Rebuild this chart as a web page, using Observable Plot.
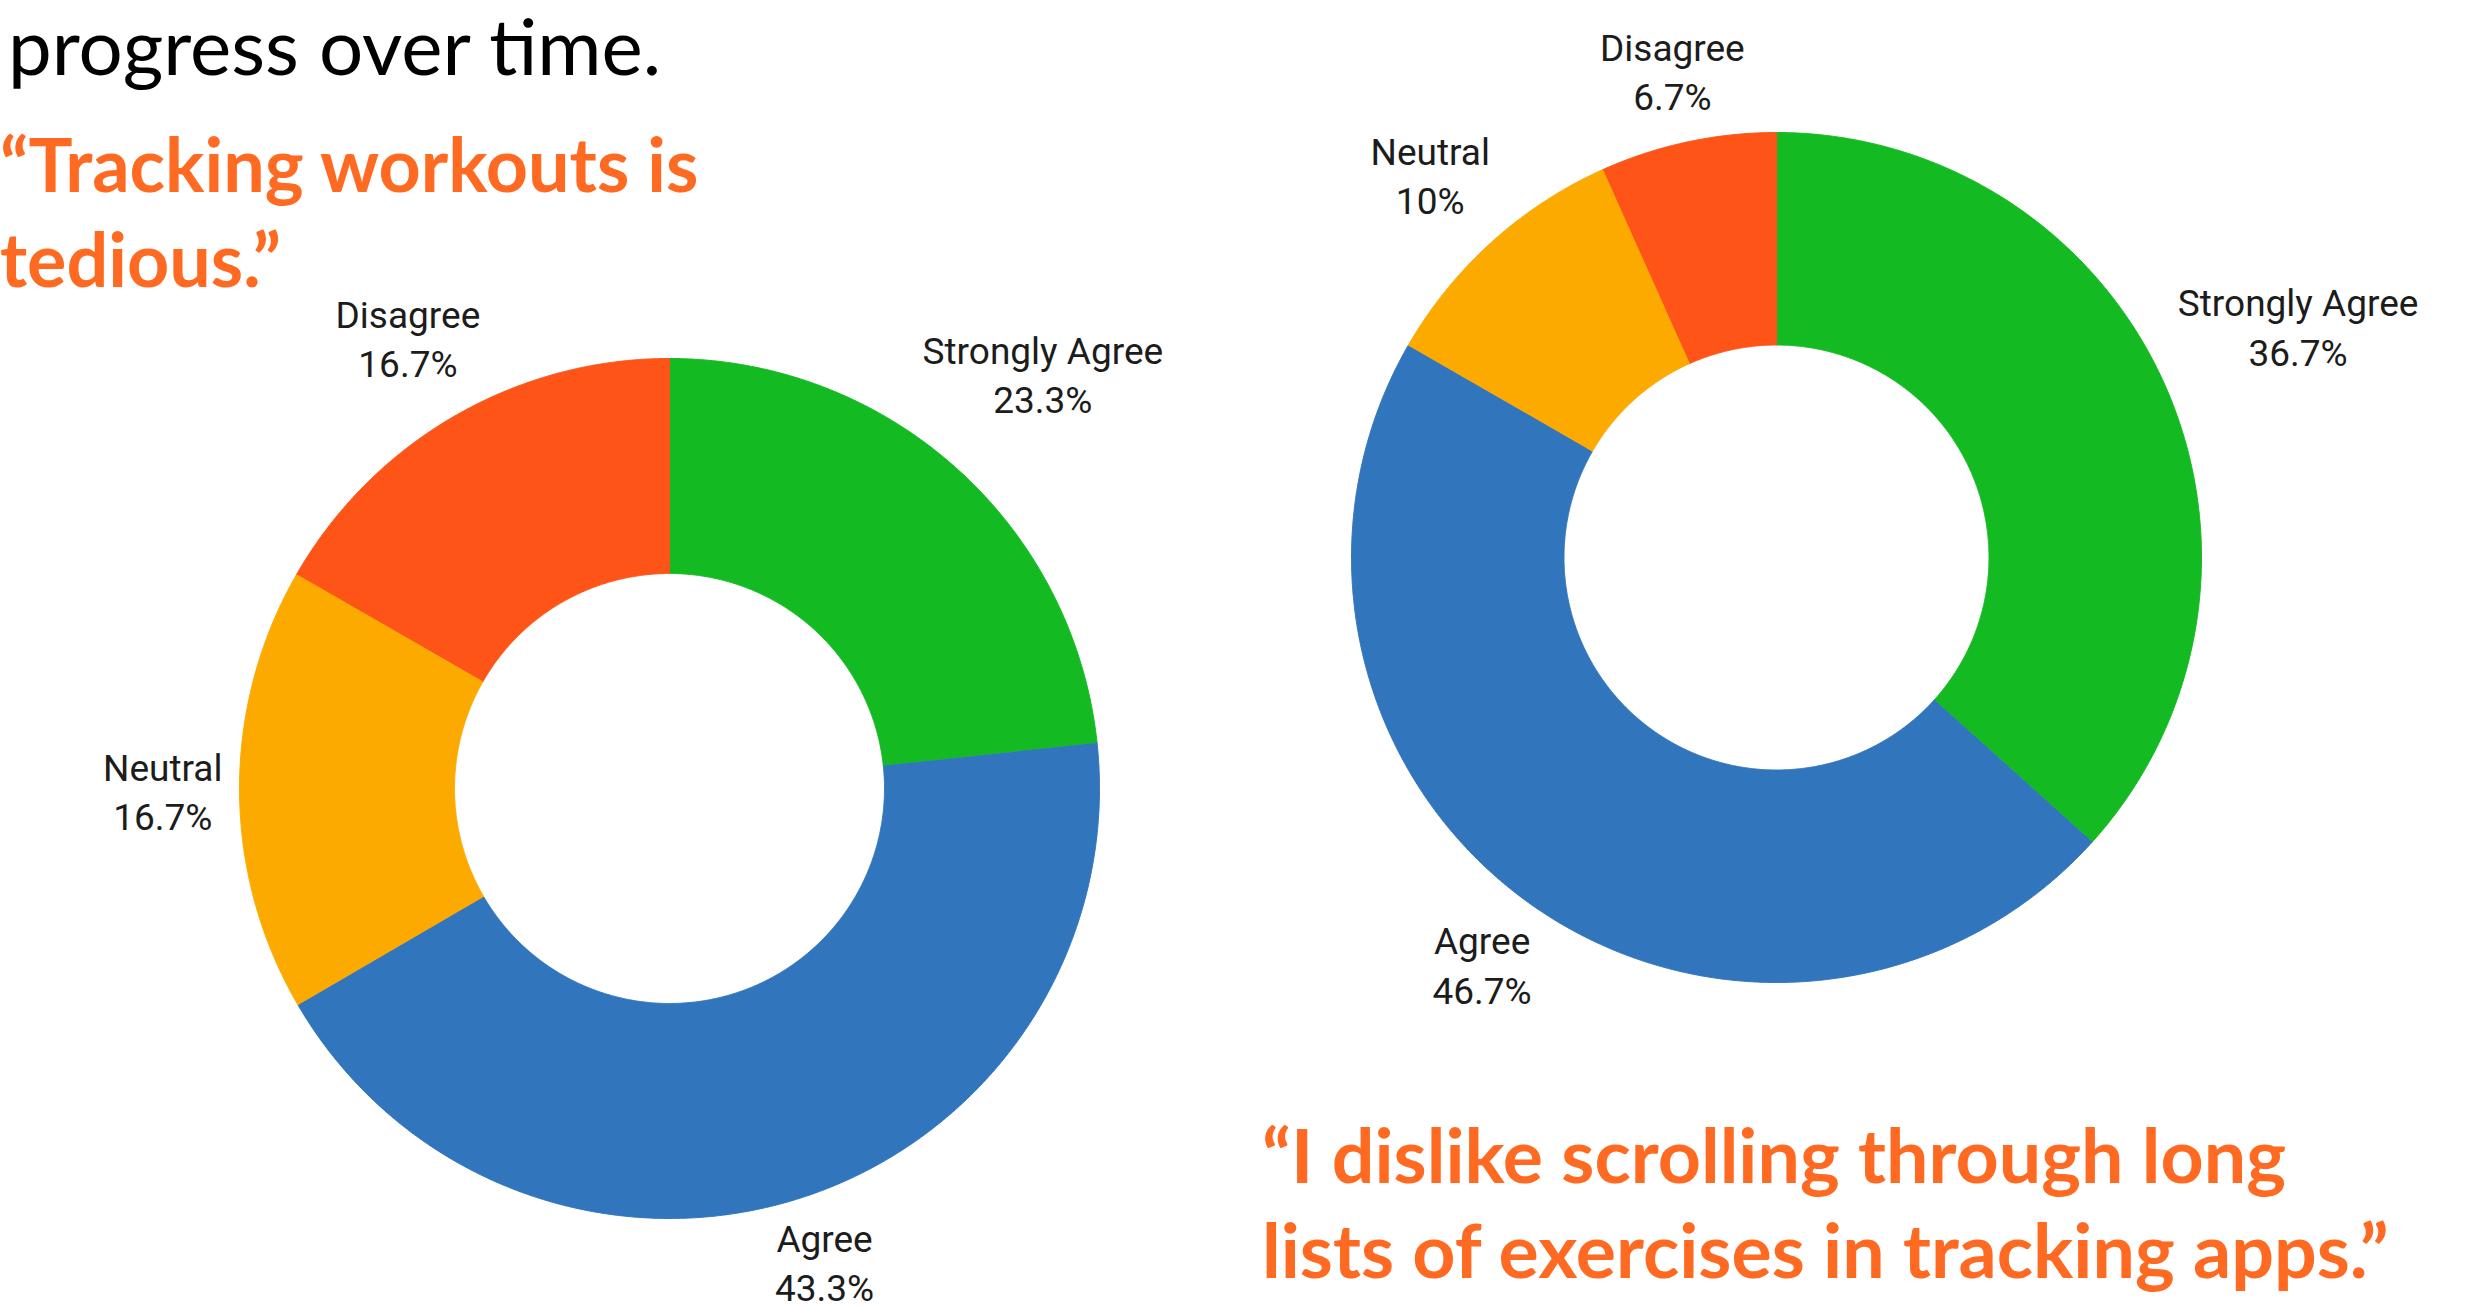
<!DOCTYPE html>
<html>
<head>
<meta charset="utf-8">
<script src="https://cdn.jsdelivr.net/npm/d3@7"></script>
<script src="https://cdn.jsdelivr.net/npm/@observablehq/plot@0.6"></script>
<style>
  html, body { margin: 0; padding: 0; background: #fff; overflow: hidden; }
  #page { position: relative; width: 2480px; height: 1309px; overflow: hidden; background: #fff; }
  .chart { position: absolute; }
  .t { position: absolute; white-space: nowrap; font-family: Lato, "Open Sans", sans-serif; }
</style>
</head>
<body>
<div id="page">
  <div id="left-chart" class="chart"></div>
  <div id="right-chart" class="chart"></div>
</div>
<script>
// ---------- data ----------
const categories = ["Strongly Agree", "Agree", "Neutral", "Disagree"];
const tediousValues = [23.3, 43.3, 16.7, 16.7];     // "Tracking workouts is tedious."
const scrollingValues = [36.7, 46.7, 10, 6.7];      // "I dislike scrolling through long lists..."
const sliceColors = ["#14BA22", "#3175BD", "#FCAA00", "#FE5418"];

const headingText = "progress over time.";
const quoteLeft = ["\u201CTracking workouts is", "tedious.\u201D"];
const quoteBottom = ["\u201CI dislike scrolling through long", "lists of exercises in tracking apps.\u201D"];

// ---------- layout ----------
const labelFont = "Roboto, sans-serif";
const labelSize = 37;
const labelLineHeight = 1.33;
const innerRatio = 0.5;
const labelGap = 17;
const plotSize = 1400;

const canvas = document.createElement("canvas");
const ctx = canvas.getContext("2d");
function measure(text, font) { ctx.font = font; return ctx.measureText(text); }

function donut(values, R) {
  const total = d3.sum(values);
  const rIn = R * innerRatio;
  const half = plotSize / 2;
  const marks = [];
  const labels = [];
  let acc = 0;
  const capH = 0.711 * labelSize;
  const lineGap = labelLineHeight * labelSize;
  const desc = 0.25 * labelSize;
  values.forEach((v, i) => {
    const a0 = acc / total * 2 * Math.PI;
    acc += v;
    const a1 = acc / total * 2 * Math.PI;
    const n = Math.max(12, Math.ceil((a1 - a0) / (Math.PI / 720)));
    const pts = [];
    for (let k = 0; k <= n; k++) {
      const a = a0 + (a1 - a0) * k / n;
      pts.push({x: R * Math.sin(a), y: -R * Math.cos(a)});
    }
    for (let k = n; k >= 0; k--) {
      const a = a0 + (a1 - a0) * k / n;
      pts.push({x: rIn * Math.sin(a), y: -rIn * Math.cos(a)});
    }
    marks.push(Plot.line(pts, {x: "x", y: "y", fill: sliceColors[i], stroke: sliceColors[i], strokeWidth: 1, curve: "linear"}));

    // label placement: along the mid-angle, pushed out until the text box clears the ring
    const am = (a0 + a1) / 2;
    const ux = Math.sin(am), uy = -Math.cos(am);
    const pct = `${+v.toFixed(1)}%`;
    const font = `${labelSize}px ${labelFont}`;
    const w = Math.max(measure(categories[i], font).width, measure(pct, font).width);
    const hw = w / 2, hh = (capH + lineGap) / 2;
    let lo = 0, hi = 3 * R;
    for (let it = 0; it < 60; it++) {
      const d = (lo + hi) / 2;
      const cx = d * ux, cy = d * uy;
      const dx = Math.max(Math.abs(cx) - hw, 0);
      const top = cy - hh, bottom = cy + hh + desc;
      const dy = top > 0 ? top : (bottom < 0 ? -bottom : 0);
      if (Math.hypot(dx, dy) >= R + labelGap) hi = d; else lo = d;
    }
    labels.push({x: hi * ux, y: hi * uy, text: `${categories[i]}\n${pct}`});
  });
  marks.push(Plot.text(labels, {
    x: "x", y: "y", text: "text",
    fontSize: labelSize, fontFamily: labelFont, lineHeight: labelLineHeight,
    lineAnchor: "middle", textAnchor: "middle", fill: "#1c1c1c"
  }));
  return Plot.plot({
    width: plotSize, height: plotSize, margin: 0,
    x: {domain: [-half, half], axis: null},
    y: {domain: [half, -half], axis: null},
    style: {background: "transparent", overflow: "visible"},
    marks
  });
}

const leftCenter = [669, 788], leftR = 430;
const rightCenter = [1776, 557], rightR = 425;
const lc = document.getElementById("left-chart");
lc.style.left = (leftCenter[0] - plotSize / 2) + "px";
lc.style.top = (leftCenter[1] - plotSize / 2) + "px";
lc.append(donut(tediousValues, leftR));
const rc = document.getElementById("right-chart");
rc.style.left = (rightCenter[0] - plotSize / 2) + "px";
rc.style.top = (rightCenter[1] - plotSize / 2) + "px";
rc.append(donut(scrollingValues, rightR));

// ---------- text blocks ----------
const page = document.getElementById("page");
const titleFamily = 'Lato, "Open Sans", sans-serif';
const textLineHeight = 0.85; // em, tight line box so boxes stay inside the page
function fitSize(text, weight, target) {
  const m = measure(text, `${weight} 100px ${titleFamily}`);
  return 100 * target / m.width;
}
function addText(text, x, baseline, size, weight, color) {
  const el = document.createElement("div");
  el.className = "t";
  el.textContent = text;
  el.style.fontSize = size + "px";
  el.style.fontWeight = weight;
  el.style.color = color;
  el.style.lineHeight = textLineHeight;
  const m = measure(text, `${weight} ${size}px ${titleFamily}`);
  const asc = m.fontBoundingBoxAscent, des = m.fontBoundingBoxDescent;
  const lineBox = textLineHeight * size;
  const baseOffset = (lineBox - (asc + des)) / 2 + asc;
  el.style.left = x + "px";
  el.style.top = (baseline - baseOffset) + "px";
  page.append(el);
}
const orange = "#FF6A22";
const headSize = fitSize(headingText, 400, 655);
addText(headingText, 8, 75, headSize, 400, "#000");
const quoteSize = fitSize(quoteBottom[1], 700, 1128);
const quoteLeftSize = fitSize(quoteLeft[0], 700, 700);
addText(quoteLeft[0], 0, 193, quoteLeftSize, 700, orange);
addText(quoteLeft[1], 0, 288, quoteLeftSize, 700, orange);
addText(quoteBottom[0], 1262, 1183, quoteSize, 700, orange);
addText(quoteBottom[1], 1262, 1278, quoteSize, 700, orange);
</script>
</body>
</html>
